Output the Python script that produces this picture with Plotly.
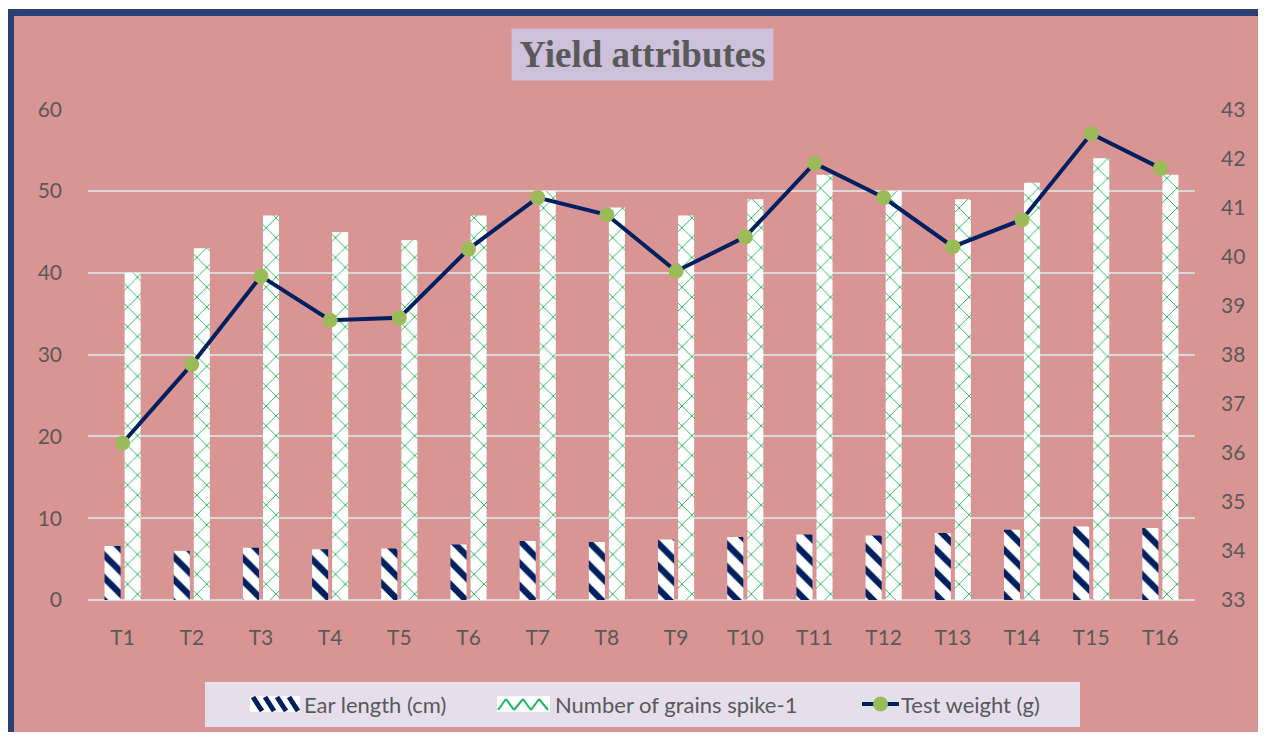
import plotly.graph_objects as go

categories = ["T1","T2","T3","T4","T5","T6","T7","T8","T9","T10","T11","T12","T13","T14","T15","T16"]
ear_length = [6.6, 6.0, 6.4, 6.2, 6.3, 6.8, 7.2, 7.1, 7.4, 7.7, 8.0, 7.9, 8.2, 8.6, 9.0, 8.8]
grains = [40, 43, 47, 45, 44, 47, 50, 48, 47, 49, 52, 50, 49, 51, 54, 52]
test_weight = [36.2, 37.8, 39.6, 38.7, 38.75, 40.15, 41.2, 40.85, 39.7, 40.4, 41.9, 41.2, 40.2, 40.75, 42.5, 41.8]
series_names = ["Ear length (cm)", "Number of grains spike-1", "Test weight (g)"]

OFF = 8  # page body margin
W, H = 1250, 724
# plot area in screen pixels
SL, SR, ST, SB = 88, 1195, 109, 600
L, R, T, B = SL - OFF, SR - OFF, ST - OFF, SB - OFF
pw, ph = R - L, B - T
def px(x): return (x - SL) / pw
def py(y): return (SB - y) / ph

FONT = "Lato"
GRAY = "#595959"
NAVY = "#002060"
GREEN = "#1fb85a"

fig = go.Figure()
fig.add_trace(go.Bar(
    x=categories, y=ear_length, name=series_names[0],
    marker=dict(color="white", line=dict(width=0),
                pattern=dict(shape="\\", fgcolor=NAVY, bgcolor="white", fgopacity=1,
                             size=16, solidity=0.4)),
))
fig.add_trace(go.Bar(
    x=categories, y=grains, name=series_names[1],
    marker=dict(color="white", line=dict(width=0),
                pattern=dict(shape="x", fgcolor=GREEN, bgcolor="white", fgopacity=1,
                             size=14, solidity=0.13)),
))
fig.add_trace(go.Scatter(
    x=categories, y=test_weight, name=series_names[2], yaxis="y2",
    mode="lines+markers",
    line=dict(color=NAVY, width=4),
    marker=dict(color="#9bbb59", size=15),
))

shapes = [
    dict(type="rect", xref="paper", yref="paper", layer="below",
         x0=px(11), x1=px(1280), y0=py(738), y1=py(13),
         fillcolor="#d99594", line=dict(width=0)),
    dict(type="line", xref="paper", yref="paper", layer="below",
         x0=px(11), x1=px(11), y0=py(745), y1=py(9),
         line=dict(color="#2c3f73", width=6)),
    dict(type="line", xref="paper", yref="paper", layer="below",
         x0=px(8), x1=px(1280), y0=py(12.5), y1=py(12.5),
         line=dict(color="#2c3f73", width=7)),
    dict(type="line", xref="paper", yref="paper", layer="below",
         x0=px(14), x1=px(1280), y0=py(738.5), y1=py(738.5),
         line=dict(color="#8a8a8a", width=1.5)),
    # legend box
    dict(type="rect", xref="paper", yref="paper", layer="above",
         x0=px(205), x1=px(1080), y0=py(727), y1=py(682),
         fillcolor="#e4dfeb", line=dict(width=0)),
]

# legend symbol 1: diagonal navy stripes on white
sx0, sx1, sy0, sy1 = 250, 300, 696, 712
shapes.append(dict(type="rect", xref="paper", yref="paper", x0=px(sx0), x1=px(sx1),
                   y0=py(sy1), y1=py(sy0), fillcolor="white", line=dict(width=0)))
for k in range(4):
    a = sx0 + 3 + k * 12
    shapes.append(dict(type="line", xref="paper", yref="paper",
                       x0=px(a), y0=py(sy0 + 1), x1=px(a + 9), y1=py(sy1 - 1),
                       line=dict(color=NAVY, width=5)))
# legend symbol 2: green zigzag on white
gx0, gx1 = 497, 550
shapes.append(dict(type="rect", xref="paper", yref="paper", x0=px(gx0), x1=px(gx1),
                   y0=py(sy1), y1=py(sy0), fillcolor="white", line=dict(width=0)))
pts_x = [gx0 + 1, gx0 + 9, gx0 + 17, gx0 + 26, gx0 + 34, gx0 + 42, gx0 + 51]
pts_y = [sy1 - 2, sy0 + 3, sy1 - 2, sy0 + 3, sy1 - 2, sy0 + 3, sy1 - 2]
for i in range(len(pts_x) - 1):
    shapes.append(dict(type="line", xref="paper", yref="paper",
                       x0=px(pts_x[i]), y0=py(pts_y[i]), x1=px(pts_x[i + 1]), y1=py(pts_y[i + 1]),
                       line=dict(color=GREEN, width=2)))
# legend symbol 3: line with marker
shapes.append(dict(type="line", xref="paper", yref="paper",
                   x0=px(862), x1=px(899), y0=py(704), y1=py(704),
                   line=dict(color=NAVY, width=4)))
shapes.append(dict(type="circle", xref="paper", yref="paper",
                   x0=px(873), x1=px(888), y0=py(711.5), y1=py(696.5),
                   fillcolor="#9bbb59", line=dict(width=0)))

annotations = [dict(
    text="<b>Yield attributes</b>", xref="paper", yref="paper",
    x=px(642.5), y=py(54.5), xanchor="center", yanchor="middle", showarrow=False,
    font=dict(family="Liberation Serif", size=37, color=GRAY),
    bgcolor="#ccc0da", borderpad=3, width=255, height=45,
)]
for name, xs in zip(series_names, [302, 553, 899]):
    annotations.append(dict(text=name, xref="paper", yref="paper", x=px(xs), y=py(704),
                            xanchor="left", yanchor="middle", showarrow=False,
                            font=dict(family=FONT, size=22, color=GRAY)))

fig.update_layout(
    width=W, height=H,
    margin=dict(l=L, r=W - R, t=T, b=H - B, autoexpand=False),
    paper_bgcolor="white", plot_bgcolor="rgba(0,0,0,0)",
    barmode="group", bargap=0.42, bargroupgap=0.2,
    font=dict(family=FONT, size=21, color=GRAY),
    shapes=shapes,
    annotations=annotations,
    showlegend=False,
    xaxis=dict(range=[-0.5, 15.5], showgrid=False, showline=False, ticks="", ticklabelstandoff=23,
               tickfont=dict(size=21, color=GRAY, family=FONT)),
    yaxis=dict(range=[0, 60.03], tickvals=[0, 10, 20, 30, 40, 50, 60], showgrid=True,
               gridcolor="#d9d9d9", gridwidth=1.5,
               zeroline=True, zerolinecolor="#d9d9d9", zerolinewidth=2,
               ticklabelstandoff=25, tickfont=dict(size=21, color=GRAY, family=FONT)),
    yaxis2=dict(range=[33, 43.005], tickvals=list(range(33, 44)), overlaying="y", side="right",
                showgrid=False, zeroline=False, ticklabelstandoff=25,
                tickfont=dict(size=21, color=GRAY, family=FONT)),
)

fig.write_html("out.html")
